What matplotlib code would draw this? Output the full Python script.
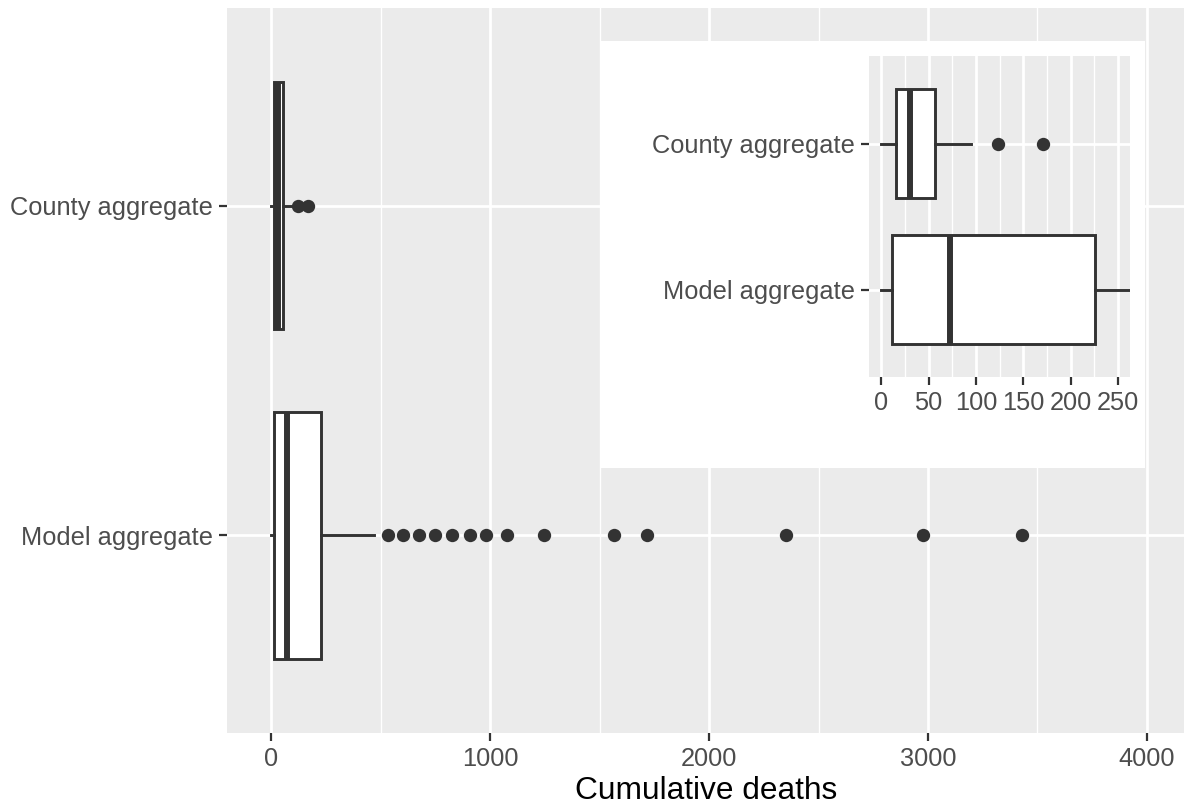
import matplotlib
matplotlib.use("Agg")
import matplotlib.pyplot as plt
from matplotlib.ticker import MultipleLocator

plt.rcParams['font.family'] = ['Liberation Sans', 'DejaVu Sans']

# valeurs
groupes = ["Model aggregate", "County aggregate"]
q1 = [11.5, 15.5]
medianes = [73, 30]
q3 = [226, 56.8]
moustache_bas = [0, 0]
moustache_haut = [470, 95]
aberrants_model = [536, 604, 676, 749, 825, 909, 982, 1078, 1248, 1568, 1716, 2352, 2976, 3431]
aberrants_county = [123, 171]

fond = '#EBEBEB'
trait = '#333333'
texte = '#4D4D4D'


def stats():
    aberrants = [aberrants_model, aberrants_county]
    res = []
    for i, g in enumerate(groupes):
        res.append({'label': g, 'q1': q1[i], 'med': medianes[i], 'q3': q3[i],
                    'whislo': moustache_bas[i], 'whishi': moustache_haut[i],
                    'fliers': aberrants[i]})
    return res


def dessine(ax, majeur, mineur, xlim):
    ax.set_facecolor(fond)
    ax.bxp(stats(), positions=[1, 2], widths=0.75, orientation='horizontal',
           patch_artist=True, showcaps=False,
           boxprops=dict(facecolor='white', edgecolor=trait, linewidth=2.1),
           medianprops=dict(color=trait, linewidth=4.3, solid_capstyle='butt'),
           whiskerprops=dict(color=trait, linewidth=2.1),
           flierprops=dict(marker='o', markerfacecolor=trait, markeredgecolor='none',
                           markersize=9.6))
    ax.set_xlim(*xlim)
    ax.set_ylim(0.4, 2.6)
    ax.xaxis.set_major_locator(MultipleLocator(majeur))
    ax.xaxis.set_minor_locator(MultipleLocator(mineur))
    ax.grid(True, which='major', color='white', linewidth=2.0)
    ax.grid(True, which='minor', axis='x', color='white', linewidth=1.0)
    ax.set_axisbelow(True)
    for s in ax.spines.values():
        s.set_visible(False)
    ax.tick_params(which='major', length=5.7, width=1.6, color=trait,
                   labelcolor=texte, labelsize=18.3, pad=4.5)
    ax.tick_params(which='minor', length=0)
    ax.set_yticks([1, 2])
    ax.set_yticklabels(groupes)


fig = plt.figure(figsize=(11.84, 8.07), dpi=100)

ax = fig.add_axes([0.192, 0.0921, 0.808, 0.898])
dessine(ax, 1000, 500, (-199.5, 4169))
ax.set_xlabel('Cumulative deaths', fontsize=22.8, color='black', labelpad=4)

# fond blanc de l'encart
fond_encart = fig.add_axes([0.5068, 0.4197, 0.4606, 0.5299])
fond_encart.set_facecolor('white')
fond_encart.set_xticks([])
fond_encart.set_yticks([])
for s in fond_encart.spines.values():
    s.set_visible(False)

encart = fig.add_axes([0.7342, 0.5325, 0.2202, 0.3981])
dessine(encart, 50, 25, (-12.5, 262.5))

fig.savefig('out.png', dpi=100)
